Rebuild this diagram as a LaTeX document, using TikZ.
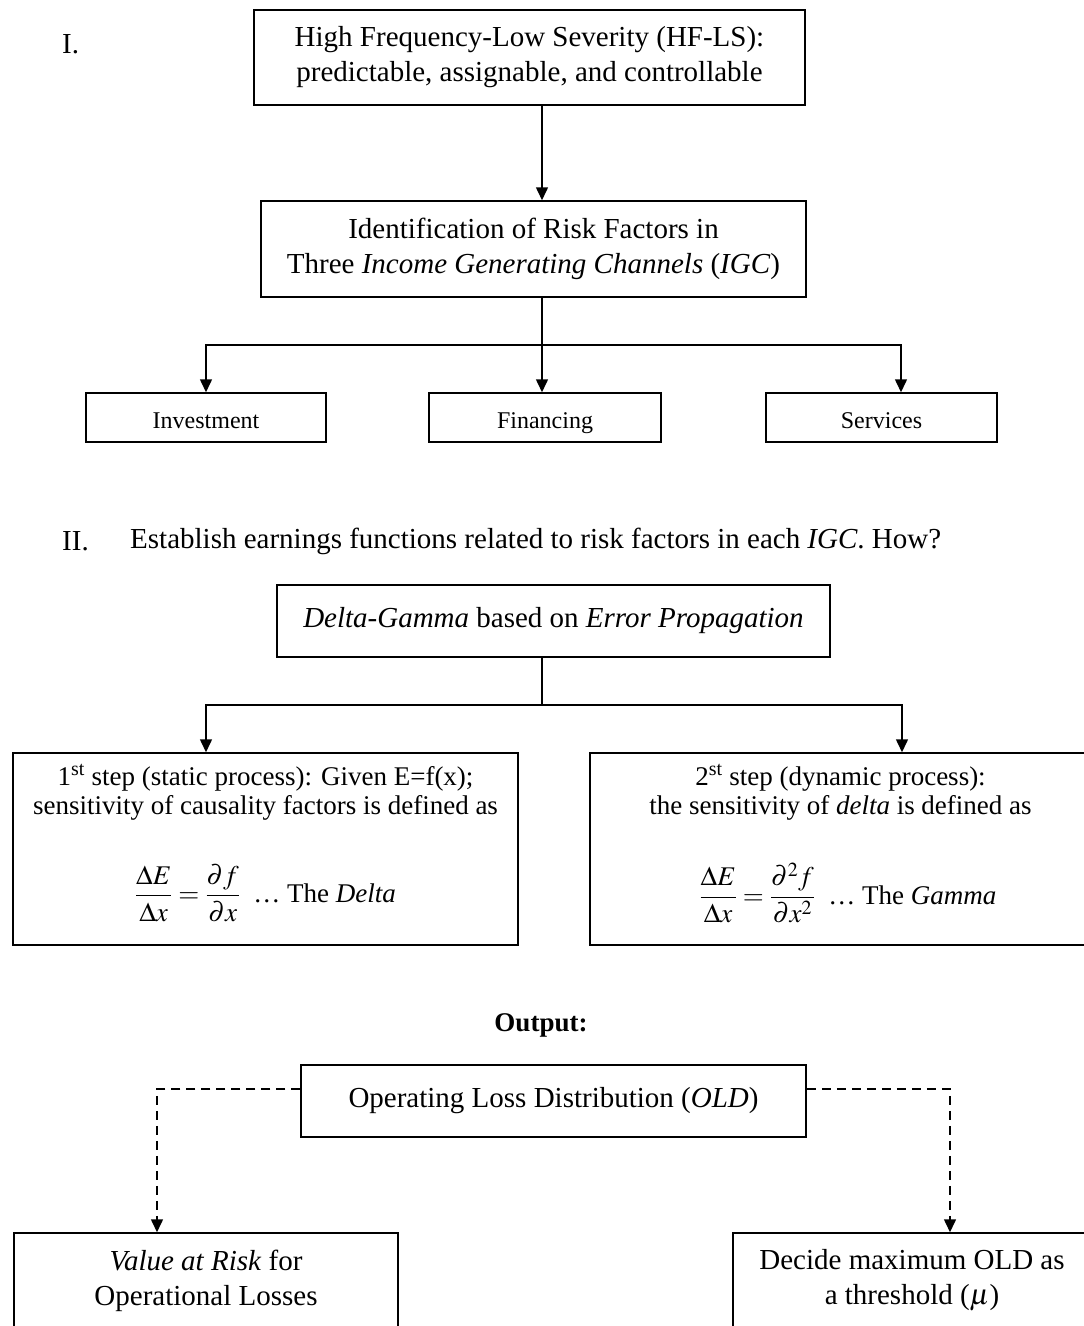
\documentclass[tikz,border=0pt]{standalone}
\usepackage{mathptmx}
\usepackage{fontspec}
\setmainfont{Liberation Serif}
\usetikzlibrary{arrows.meta}

\begin{document}
\begin{tikzpicture}[x=1pt,y=-1pt,
  box/.style={draw, line width=1.5pt, inner sep=0pt, align=center},
  conn/.style={line width=1.5pt},
  arr/.style={conn, -{Triangle[length=13pt,width=12pt]}},
  dsh/.style={arr, dash pattern=on 9pt off 6pt},
  big/.style={font=\fontsize{29}{35}\selectfont},
  mid/.style={font=\fontsize{27}{29}\selectfont, align=center},
  small/.style={font=\fontsize{24}{28}\selectfont, text height=26pt, text depth=5pt},
  lbl/.style={font=\fontsize{29}{35}\selectfont, anchor=west, inner sep=0pt}]

\useasboundingbox (0,0) rectangle (1084,1326);
\clip (0,0) rectangle (1084,1326);

% x positions of the vertical connectors
\coordinate (spine) at (542,0);
\coordinate (leftx) at (206,0);
\coordinate (rightx) at (902,0);
\coordinate (serx) at (901,0);
\coordinate (dl) at (157,0);
\coordinate (dr) at (950,0);
\coordinate (oldy) at (0,1089);

% ---------------- Part I ----------------
\node[lbl] (lbl1) at (62,44) {I.};
\node[box, big, minimum width=551pt, minimum height=95pt] (hfls) at (529.5,57.5)
  {High Frequency-Low Severity (HF-LS):\\predictable, assignable, and controllable};
\node[box, big, minimum width=545pt, minimum height=96pt] (irf) at (533.5,249)
  {Identification of Risk Factors in\\Three \textit{Income Generating Channels} (\textit{IGC})};
\draw[arr] (hfls.south -| spine) -- (irf.north -| spine);

\node[box, small, minimum width=240pt, minimum height=49pt] (inv) at (206,417.5) {Investment};
\node[box, small, minimum width=232pt, minimum height=49pt] (fin) at (545,417.5) {Financing};
\node[box, small, minimum width=231pt, minimum height=49pt] (ser) at (881.5,417.5) {Services};

\coordinate (fork1) at (542,345);
\draw[conn] (irf.south -| spine) -- (fork1);
\draw[arr] (fork1) -| (inv.north -| leftx);
\draw[arr] (fork1) -- (fin.north -| spine);
\draw[arr] (fork1) -| (ser.north -| serx);

% ---------------- Part II ----------------
\node[lbl] (lbl2) at (62,541) {II.};
\node[lbl] (est) at (130,541)
  {Establish earnings functions related to risk factors in each \textit{IGC}. How?};

\node[box, big, minimum width=553pt, minimum height=72pt] (dg) at (553.5,621)
  {\textit{Delta-Gamma} based on \textit{Error Propagation}};

\node[box, minimum width=505pt, minimum height=192pt] (s1) at (265.5,849) {};
\node[box, minimum width=501pt, minimum height=192pt] (s2) at (840.5,849) {};

\node[mid] (s1t) at (265.5,792)
  {1\textsuperscript{st} step (static process): Given E=f(x);\\sensitivity of causality factors is defined as};
\node[mid] (s1f) at (265.5,893)
  {$\displaystyle\frac{\Delta E}{\Delta x}=\frac{\partial f}{\partial x}$\enspace\dots\ The \textit{Delta}};
\node[mid] (s2t) at (840.5,792)
  {2\textsuperscript{st} step (dynamic process):\\the sensitivity of \textit{delta} is defined as};
\node[mid] (s2f) at (848,893)
  {$\displaystyle\frac{\Delta E}{\Delta x}=\frac{\partial^2 f}{\partial x^2}$\enspace\dots\ The \textit{Gamma}};

\coordinate (fork2) at (542,705);
\draw[conn] (dg.south -| spine) -- (fork2);
\draw[arr] (fork2) -| (s1.north -| leftx);
\draw[arr] (fork2) -| (s2.north -| rightx);

% ---------------- Output ----------------
\node[font=\bfseries\fontsize{27}{30}\selectfont] (out) at (541,1025) {Output:};
\node[box, big, minimum width=505pt, minimum height=72pt] (old) at (553.5,1101)
  {Operating Loss Distribution (\textit{OLD})};

\node[box, big, minimum width=384pt, minimum height=95pt] (var) at (206,1280.5)
  {\textit{Value at Risk} for\\Operational Losses};
\node[box, big, minimum width=358pt, minimum height=95pt] (dec) at (912,1280.5)
  {Decide maximum OLD as\\a threshold ($\mu$)};

\draw[dsh] (old.west |- oldy) -| (var.north -| dl);
\draw[dsh] (old.east |- oldy) -| (dec.north -| dr);

\end{tikzpicture}
\end{document}
